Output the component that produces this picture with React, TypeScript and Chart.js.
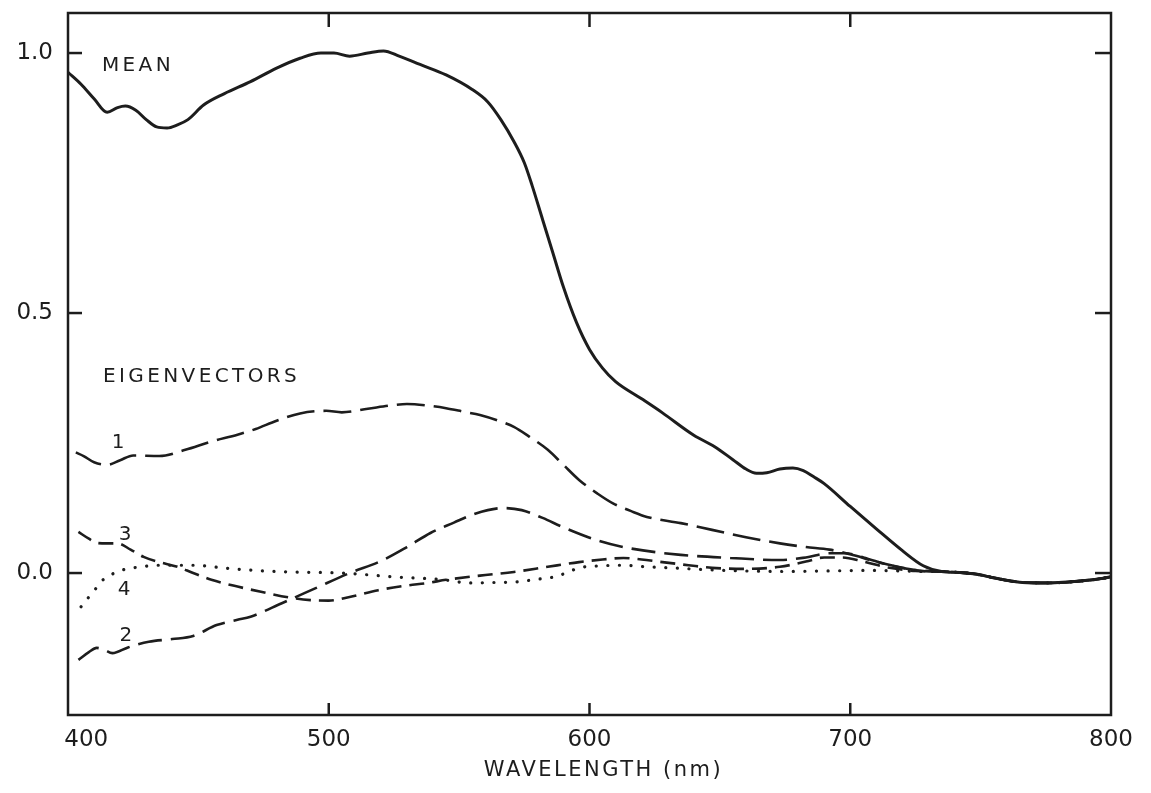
import React, { useEffect, useRef } from "react";
import { Chart, registerables } from "chart.js";

Chart.register(...registerables);

// ---- axis ticks ----
const X_TICKS = [400, 500, 600, 700, 800];
const Y_TICKS = [0, 0.5, 1.0];

// ---- shared long-wavelength tail (all curves merge here) ----
const TAIL_WL = [735, 742, 748, 754, 760, 766, 776, 789, 797, 800];
const TAIL_VAL = [0.003, 0.001, -0.002, -0.008, -0.014, -0.018, -0.019, -0.015, -0.01, -0.007];

// ---- MEAN ----
const MEAN_WL = [400, 405, 410, 415, 419, 422, 426, 430, 434, 438, 442, 446, 452, 460, 470, 480, 489, 497, 502, 508, 515, 521, 527, 535, 545, 555, 561, 566, 571, 575, 578, 582, 586, 590, 595, 600, 605, 610, 620, 628, 640, 648, 655, 660, 664, 668, 673, 678, 682, 686, 690, 700, 710, 720, 728];
const MEAN_VAL = [0.963, 0.94, 0.912, 0.886, 0.895, 0.898, 0.89, 0.872, 0.858, 0.856, 0.862, 0.872, 0.9, 0.922, 0.945, 0.971, 0.99, 1.0, 1.0, 0.994, 1.0, 1.004, 0.994, 0.978, 0.958, 0.93, 0.906, 0.872, 0.83, 0.789, 0.745, 0.68, 0.615, 0.55, 0.482, 0.43, 0.394, 0.368, 0.335, 0.308, 0.265, 0.243, 0.218, 0.2, 0.192, 0.193, 0.2, 0.202, 0.197, 0.185, 0.172, 0.128, 0.085, 0.043, 0.014];

// ---- EIGENVECTOR 1 ----
const EIG1_WL = [403, 406, 410, 415, 420, 425, 435, 445, 455, 465, 472, 480, 489, 499, 505, 515, 525, 530, 538, 545, 552, 558, 565, 571, 577, 584, 590, 596, 603, 609, 616, 622, 635, 647, 660, 673, 683, 692, 700, 710, 720, 728];
const EIG1_VAL = [0.232, 0.225, 0.213, 0.208, 0.217, 0.226, 0.225, 0.237, 0.253, 0.266, 0.277, 0.293, 0.307, 0.312, 0.309, 0.316, 0.323, 0.325, 0.322, 0.317, 0.31, 0.304, 0.293, 0.281, 0.262, 0.237, 0.208, 0.179, 0.153, 0.134, 0.119, 0.108, 0.096, 0.083, 0.069, 0.057, 0.05, 0.045, 0.036, 0.022, 0.01, 0.004];

// ---- EIGENVECTOR 2 ----
const EIG2_WL = [404, 408, 411, 414, 417, 423, 431, 440, 448, 457, 465, 470, 482, 495, 508, 520, 530, 539, 548, 555, 561, 567, 574, 582, 590, 603, 615, 635, 654, 673, 683, 692, 698, 705, 715, 725];
const EIG2_VAL = [-0.167, -0.152, -0.144, -0.148, -0.154, -0.143, -0.132, -0.127, -0.121, -0.1, -0.09, -0.084, -0.058, -0.029, 0.0, 0.023, 0.05, 0.077, 0.097, 0.112, 0.121, 0.125, 0.121, 0.106, 0.088, 0.063, 0.048, 0.035, 0.029, 0.025, 0.03, 0.038, 0.038, 0.03, 0.015, 0.006];

// ---- EIGENVECTOR 3 ----
const EIG3_WL = [404, 408, 411, 415, 419, 424, 429, 435, 442, 448, 455, 465, 474, 486, 493, 500, 508, 519, 530, 538, 545, 558, 571, 584, 596, 605, 613, 620, 628, 638, 647, 660, 673, 683, 690, 697, 705, 715, 725];
const EIG3_VAL = [0.079, 0.066, 0.058, 0.057, 0.057, 0.045, 0.031, 0.021, 0.012, 0.0, -0.013, -0.026, -0.036, -0.048, -0.052, -0.053, -0.046, -0.033, -0.024, -0.019, -0.013, -0.005, 0.002, 0.012, 0.021, 0.026, 0.029, 0.026, 0.021, 0.015, 0.01, 0.008, 0.012, 0.022, 0.03, 0.03, 0.022, 0.01, 0.004];

// ---- EIGENVECTOR 4 ----
const EIG4_WL = [405, 408, 410.5, 413, 417, 421, 428, 435, 448, 461, 475, 486, 505, 524, 544, 554, 565, 572, 580, 586, 591, 596, 605, 612, 622, 635, 647, 660, 675, 690, 708, 720, 728];
const EIG4_VAL = [-0.065, -0.046, -0.031, -0.015, -0.002, 0.006, 0.012, 0.015, 0.015, 0.009, 0.004, 0.002, 0.0, -0.007, -0.013, -0.019, -0.018, -0.017, -0.012, -0.008, 0.0, 0.01, 0.014, 0.015, 0.012, 0.009, 0.006, 0.004, 0.003, 0.004, 0.005, 0.004, 0.003];

// ---- in-plot text labels (anchored in data coordinates) ----
const TEXT_LABELS = [
  { text: "MEAN", wl: 413.0, v: 0.975, align: "left" },
  { text: "EIGENVECTORS", wl: 413.4, v: 0.377, align: "left" },
  { text: "1", wl: 419.2, v: 0.25, align: "center" },
  { text: "3", wl: 421.9, v: 0.073, align: "center" },
  { text: "4", wl: 421.5, v: -0.033, align: "center" },
  { text: "2", wl: 422.2, v: -0.121, align: "center" },
];
const X_TITLE = "WAVELENGTH (nm)";

const FONT = "'DejaVu Sans', 'Noto Sans', sans-serif";
const INK = "#1d1d1d";

export default function App() {
  const ref = useRef<HTMLCanvasElement>(null);

  useEffect(() => {
    if (!ref.current) return;
    const zip = (xs: number[], ys: number[]) => xs.map((x, i) => ({ x, y: ys[i] }));
    const withTail = (xs: number[], ys: number[]) => zip(xs.concat(TAIL_WL), ys.concat(TAIL_VAL));

    const framePlugin = {
      id: "framePlugin",
      afterDraw(chart: any) {
        const { ctx, chartArea: a, scales } = chart;
        const xs = scales.x;
        const ys = scales.y;
        ctx.save();
        ctx.strokeStyle = INK;
        ctx.lineWidth = 2.5;
        ctx.lineCap = "butt";
        ctx.strokeRect(a.left, a.top, a.right - a.left, a.bottom - a.top);
        const seg = (x1: number, y1: number, x2: number, y2: number) => {
          ctx.beginPath();
          ctx.moveTo(x1, y1);
          ctx.lineTo(x2, y2);
          ctx.stroke();
        };
        for (const v of Y_TICKS) {
          const py = ys.getPixelForValue(v);
          seg(a.left, py, a.left + 14, py);
          seg(a.right, py, a.right - 16, py);
        }
        for (const v of X_TICKS.slice(1, -1)) {
          const px = xs.getPixelForValue(v);
          seg(px, a.bottom, px, a.bottom - 12);
          seg(px, a.top, px, a.top + 14);
        }
        // in-plot labels
        ctx.fillStyle = INK;
        ctx.textBaseline = "middle";
        for (const t of TEXT_LABELS) {
          const px = xs.getPixelForValue(t.wl);
          const py = ys.getPixelForValue(t.v);
          ctx.font = `20px ${FONT}`;
          (ctx as any).letterSpacing = t.text.length > 1 ? "3.4px" : "0px";
          ctx.textAlign = t.align as CanvasTextAlign;
          ctx.fillText(t.text, px, py);
        }
        // axis title
        ctx.font = `21px ${FONT}`;
        (ctx as any).letterSpacing = "2.5px";
        ctx.textAlign = "center";
        ctx.fillText(X_TITLE, (a.left + a.right) / 2 + 14, a.bottom + 56);
        ctx.restore();
      },
    };

    const chart = new Chart(ref.current, {
      type: "line",
      data: {
        datasets: [
          {
            label: "MEAN",
            data: withTail(MEAN_WL, MEAN_VAL),
            borderColor: INK,
            borderWidth: 3,
            pointRadius: 0,
            cubicInterpolationMode: "monotone",
          },
          {
            label: "1",
            data: withTail(EIG1_WL, EIG1_VAL),
            borderColor: INK,
            borderWidth: 2.6,
            borderDash: [28, 9],
            pointRadius: 0,
            cubicInterpolationMode: "monotone",
          },
          {
            label: "2",
            data: withTail(EIG2_WL, EIG2_VAL),
            borderColor: INK,
            borderWidth: 2.6,
            borderDash: [24, 9],
            pointRadius: 0,
            cubicInterpolationMode: "monotone",
          },
          {
            label: "3",
            data: withTail(EIG3_WL, EIG3_VAL),
            borderColor: INK,
            borderWidth: 2.6,
            borderDash: [15, 8],
            pointRadius: 0,
            cubicInterpolationMode: "monotone",
          },
          {
            label: "4",
            data: withTail(EIG4_WL, EIG4_VAL),
            borderColor: INK,
            borderWidth: 3.2,
            borderDash: [0.1, 11.5],
            borderCapStyle: "round",
            pointRadius: 0,
            cubicInterpolationMode: "monotone",
          },
        ],
      },
      options: {
        animation: false,
        responsive: false,
        devicePixelRatio: 1,
        layout: { padding: { top: 13, right: 40, left: 0, bottom: 0 } },
        plugins: { legend: { display: false }, tooltip: { enabled: false }, title: { display: false } },
        scales: {
          x: {
            type: "linear",
            min: 400,
            max: 800,
            afterFit: (s: any) => {
              s.height = 78;
              s.paddingLeft = 0;
              s.paddingRight = 0;
            },
            afterBuildTicks: (s: any) => {
              s.ticks = X_TICKS.map((v) => ({ value: v }));
            },
            grid: { display: false, drawTicks: false },
            border: { display: false },
            ticks: {
              color: INK,
              padding: 11,
              maxRotation: 0,
              autoSkip: false,
              font: { family: FONT, size: 23 },
              // the first label sits just right of the axis corner in the original
              callback: (v: any) => (v === X_TICKS[0] ? "     " + String(v) : String(v)),
            },
          },
          y: {
            type: "linear",
            min: -0.273,
            max: 1.077,
            afterFit: (s: any) => {
              s.width = 68;
              s.paddingTop = 0;
              s.paddingBottom = 0;
            },
            afterBuildTicks: (s: any) => {
              s.ticks = Y_TICKS.map((v) => ({ value: v }));
            },
            grid: { display: false, drawTicks: false },
            border: { display: false },
            ticks: {
              color: INK,
              padding: 15,
              autoSkip: false,
              font: { family: FONT, size: 23 },
              callback: (v: any) => Number(v).toFixed(1),
            },
          },
        },
      },
      plugins: [framePlugin],
    } as any);

    return () => chart.destroy();
  }, []);

  return (
    <div style={{ position: "fixed", left: 0, top: 0, width: 1151, height: 793, background: "#fff" }}>
      <canvas ref={ref} width={1151} height={793} style={{ display: "block" }} />
    </div>
  );
}
